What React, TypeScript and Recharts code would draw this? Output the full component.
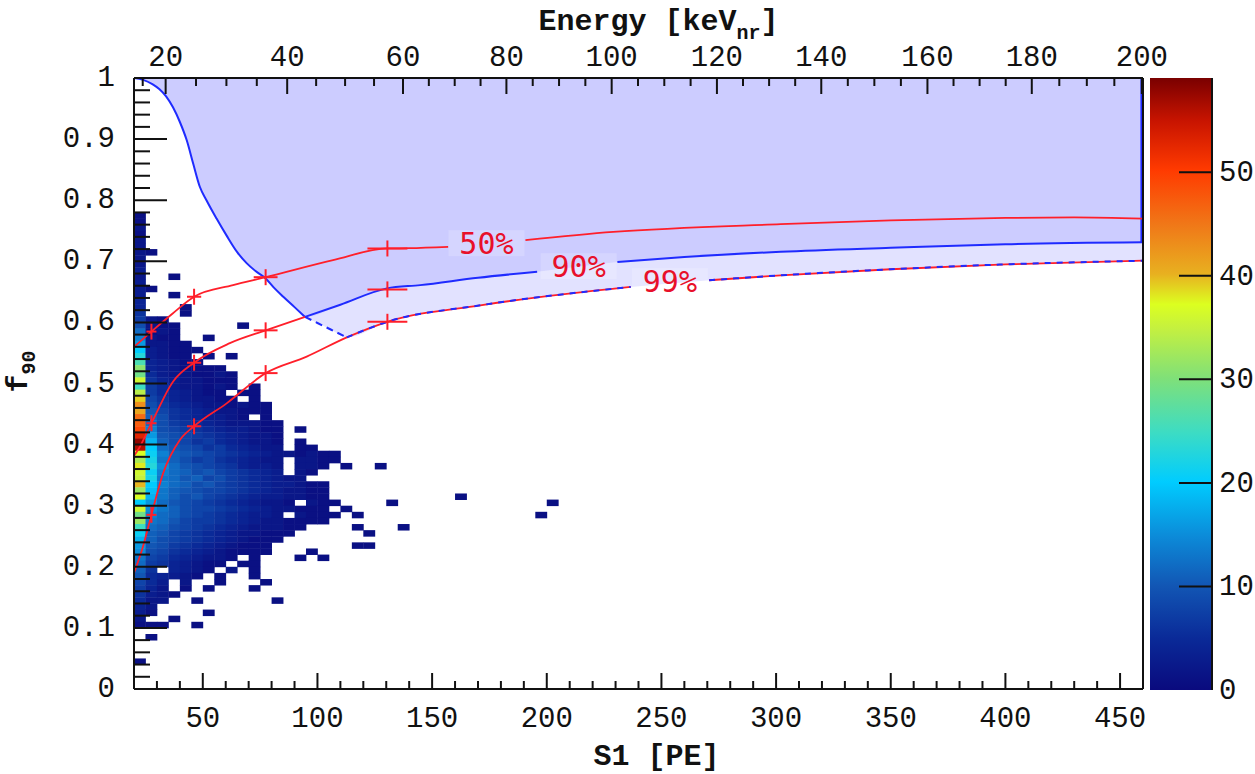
import React from "react";
import {
  ComposedChart,
  BarChart,
  Bar,
  XAxis,
  YAxis,
  Area,
  Line,
  Scatter,
  ErrorBar,
  Label,
} from "recharts";

// ---- axes ---------------------------------------------------------------
const S1_DOMAIN = [20, 460];
const F90_DOMAIN = [0, 1];
const S1_LABELS = [50, 100, 150, 200, 250, 300, 350, 400, 450];
const F90_LABELS = [0, 0.1, 0.2, 0.3, 0.4, 0.5, 0.6, 0.7, 0.8, 0.9, 1];
// top axis: nuclear recoil energy, placed at the S1 where it reads off
const ENERGY_LABELS = [20, 40, 60, 80, 100, 120, 140, 160, 180, 200];
const ENERGY_S1 = [33.8, 86.8, 137.3, 182.4, 228.3, 274.2, 319.7, 366.0, 411.5, 459.5];
const ENERGY_LOW = [15, 23.8]; // first minor tick (keV, S1)
const Z_LABELS = [0, 10, 20, 30, 40, 50];
const Z_RANGE = [0, 59.1];

// ---- 2D histogram: f90 rows of 0.01 from 0.77 down, S1 columns of 5 PE from 20
// one char per bin: . = empty, 0-9, a-z = 10-35, A-Z = 36-61
const HIST_TOP_F90 = 0.77;
const HIST_ROWS = [
  "1", "1", "2", "1", "2", "2", "21", "2", "2", "3",
  "2..1", "3", "31", "3..1", "4", "4...1", "6...1",
  "721",
  "9211.....1",
  "c121",
  "e211..1",
  "g2211",
  "k32111",
  "n3211.1.1",
  "q43211",
  "v4321111",
  "t53221121",
  "A64322111",
  "p75322121.1",
  "y7543211.11",
  "D86432211.1",
  "H97543221211",
  "Fa8654322111",
  "Kb96543321.1",
  "Lc97654322211",
  "Ne98765433211.1",
  "Rga9876543221",
  "Wib9867543221.1",
  "Ukca986754322.11",
  "Bleba9876543221211",
  "xmdb978654322.2211",
  "Cnfca98764332.221.1..1",
  "Alecb9a876543.21",
  "zmdcab897654322",
  "Ekecb9a8765433211",
  "wjdba988765432211",
  "Bidb9a87654332211...........1",
  "kgca9876543221.211....1.............1",
  "Afdb9887654322111.1",
  "tecb987654332.2111.1...............1",
  "wdca8776543221111",
  "pcb987654322211....1...1",
  "lba87654322111......1",
  "ib98765432111",
  "ga9765432111.......11",
  "f98654321111...1",
  "d87543221.1...1.1",
  "c7643211.11",
  "b6.4321.2.1",
  "a54321.1..1",
  "853.2..1...1",
  "742.1.1...1",
  "6321",
  "522..1......1",
  "42",
  "31....1",
  "2..1",
  "111..1",
  "",
  ".1",
  "",
  "",
  "",
  "1",
];

// ---- acceptance curves (S1, f90); null = gap under the label
const EDGE_S1 = [20, 24, 28, 31, 34, 37, 40, 43, 45.8, 48.7, 51.6, 56, 60.4, 65, 69.1, 73, 77.4, 81, 85.1, 90, 94.6];
const EDGE_F90 = [1.0, 0.997, 0.99, 0.982, 0.97, 0.952, 0.928, 0.898, 0.86, 0.822, 0.8, 0.77, 0.742, 0.715, 0.697, 0.684, 0.672, 0.657, 0.642, 0.625, 0.609];
const EDGE_DASH_S1 = [94.6, 100, 106, 112.8];
const EDGE_DASH_F90 = [0.609, 0.599, 0.588, 0.5755];

const C50_S1 = [20, 27.6, 37, 46.2, 63.2, 77.4, 106.8, 130.5, 140, 157, 170, 190.7, 229, 302, 350, 400, 430, 460];
const C50_F90 = [0.56, 0.585, 0.615, 0.642, 0.661, 0.674, 0.702, 0.721, 0.7215, 0.7237, null, 0.7346, 0.748, 0.7608, 0.767, 0.771, 0.772, 0.77];

const C90_RED_S1 = [20, 21.7, 27.6, 37, 46.2, 61.8, 77.4, 94.6];
const C90_RED_F90 = [0.3815, 0.391, 0.435, 0.503, 0.534, 0.566, 0.587, 0.609];
const C90_BLUE_S1 = [94.6, 110, 130.3, 144.8, 170, 195.8, 213, 230.8, 260, 302, 350, 400, 460];
const C90_BLUE_F90 = [0.609, 0.629, 0.6557, 0.661, 0.673, 0.683, null, 0.699, 0.707, 0.7155, 0.722, 0.728, 0.731];

const C99_S1 = [20, 23.9, 27.6, 32.7, 40, 46.2, 60.4, 77.4, 95.3, 112.8, 130.5, 171, 236.6, 250, 270.8, 302, 350, 400, 460];
const C99_F90 = [0.19, 0.233, 0.285, 0.353, 0.4076, 0.43, 0.4675, 0.517, 0.544, 0.5755, 0.601, 0.628, 0.658, null, 0.669, 0.677, 0.687, 0.695, 0.701];
const REGION_EDGE_S1 = 459.3;

// "+" markers on the curves, with their S1 spread
const MARK_S1 = [27.6, 46.2, 77.4, 130.5];
const MARK_S1_ERR = [2.2, 3.1, 5.2, 8.7];
const MARK_F90_50 = [0.585, 0.642, 0.674, 0.721];
const MARK_F90_90 = [0.435, 0.534, 0.587, 0.654];
const MARK_F90_99 = [0.285, 0.43, 0.517, 0.601];

const LABEL_TEXT = ["50%", "90%", "99%"];
const LABEL_S1 = [173.7, 213.9, 253.7];
const LABEL_F90 = [0.7297, 0.692, 0.6675];

// ROOT-style rainbow palette
const PALETTE_STOPS = [0, 0.085, 0.17, 0.25, 0.34, 0.42, 0.51, 0.59, 0.63, 0.68, 0.76, 0.85, 0.93, 1];
const PALETTE_COLORS = ["#0a0a7e", "#0a2a98", "#1256b4", "#0c8ad8", "#00ccff", "#3cdcc4", "#80e078", "#c4f040", "#dcff20", "#e8b020", "#f07818", "#ff3a00", "#c81400", "#7a0000"];

// ---- layout ---------------------------------------------------------------
const W = 1255;
const H = 774;
const LEFT_W = 134;
const TOP_H = 78;
const BOTTOM_H = 85;
const RIGHT_M = 110;
const PLOT_W = W - LEFT_W - 2 - RIGHT_M;
const PLOT_H = H - TOP_H - BOTTOM_H;
const CELL_W = (5 / (S1_DOMAIN[1] - S1_DOMAIN[0])) * PLOT_W;
const CELL_H = 0.01 * PLOT_H;

const INK = "#111";
const RED = "#ff1f2a";
const BLUE = "#1f2bff";
const TICK_FONT = { fontFamily: "'Liberation Mono', monospace", fontSize: 29, fill: INK };
const TITLE_FONT = { fontFamily: "'Liberation Mono', monospace", fontSize: 30, fontWeight: 700, fill: INK };

const pts = (xs: number[], ys: (number | null)[]) => xs.map((x, i) => ({ x, y: ys[i] }));

const decode = (ch: string) => {
  if (ch === ".") return 0;
  const c = ch.charCodeAt(0);
  if (c >= 48 && c <= 57) return c - 48;
  if (c >= 97 && c <= 122) return c - 87;
  return c - 29;
};

const CELLS = HIST_ROWS.flatMap((row, r) =>
  row.split("").map((ch, c) => ({
    x: S1_DOMAIN[0] + 5 * c + 2.5,
    y: HIST_TOP_F90 - 0.01 * r + 0.005,
    n: decode(ch),
  }))
).filter((d) => d.n > 0);

const hex = (s: string) => [1, 3, 5].map((i) => parseInt(s.slice(i, i + 2), 16));
function heatColor(n: number) {
  const t = Math.min(1, n / Z_RANGE[1]);
  let i = 0;
  while (i < PALETTE_STOPS.length - 2 && t > PALETTE_STOPS[i + 1]) i++;
  const f = (t - PALETTE_STOPS[i]) / (PALETTE_STOPS[i + 1] - PALETTE_STOPS[i]);
  const a = hex(PALETTE_COLORS[i]);
  const b = hex(PALETTE_COLORS[i + 1]);
  return `rgb(${a.map((v, k) => Math.round(v + (b[k] - v) * f)).join(",")})`;
}

const edge = pts(EDGE_S1, EDGE_F90);
const edgeDash = pts(EDGE_DASH_S1, EDGE_DASH_F90);
const c50 = pts(C50_S1, C50_F90);
const c90Red = pts(C90_RED_S1, C90_RED_F90);
const c90Blue = pts(C90_BLUE_S1, C90_BLUE_F90);
const c99 = pts(C99_S1, C99_F90);
const c99Dashed = c99.filter((d) => d.x >= EDGE_DASH_S1[EDGE_DASH_S1.length - 1]);

const DARK_BAND = [...edge, ...c90Blue.slice(1)].filter((d) => d.y !== null);
const LIGHT_BAND = [...edgeDash, ...c99Dashed.slice(1)].filter((d) => d.y !== null);
const band = (d: { y: number }) => [d.y, F90_DOMAIN[1]];

const MARKERS = [MARK_F90_50, MARK_F90_90, MARK_F90_99].flatMap((ys) =>
  ys.map((y, i) => ({ x: MARK_S1[i], y, ex: MARK_S1_ERR[i] }))
);
const LABELS = LABEL_TEXT.map((text, i) => ({ x: LABEL_S1[i], y: LABEL_F90[i], text }));

// energy ticks every 5 keV, interpolated between the labelled ones
const energyAnchors = [[ENERGY_LOW[0], ENERGY_LOW[1]], ...ENERGY_LABELS.map((e, i) => [e, ENERGY_S1[i]])];
const energyToS1 = (e: number) => {
  for (let i = 0; i < energyAnchors.length - 1; i++) {
    const [e0, s0] = energyAnchors[i];
    const [e1, s1] = energyAnchors[i + 1];
    if (e >= e0 && e <= e1) return s0 + ((e - e0) / (e1 - e0)) * (s1 - s0);
  }
  return ENERGY_S1[ENERGY_S1.length - 1];
};
const ENERGY_TICKS = Array.from({ length: 38 }, (_, i) => 15 + 5 * i).map((e) => ({
  e,
  s1: ENERGY_LABELS.includes(e) ? ENERGY_S1[ENERGY_LABELS.indexOf(e)] : energyToS1(e),
}));

const S1_TICKS = Array.from({ length: 44 }, (_, i) => 20 + 10 * i);
const F90_TICKS = Array.from({ length: 51 }, (_, i) => +(i * 0.02).toFixed(2));

// ---- ticks (ROOT draws them inside the frame) ----------------------------
function BottomTick({ x, y, payload }: any) {
  const major = S1_LABELS.includes(payload.value);
  return (
    <g>
      <line x1={x} x2={x} y1={y} y2={y - (major ? 16 : 8)} stroke={INK} strokeWidth={2} />
      {major && (
        <text x={x} y={y + 38} textAnchor="middle" {...TICK_FONT}>
          {payload.value}
        </text>
      )}
    </g>
  );
}

function LeftTick({ x, y, payload }: any) {
  const v = payload.value;
  const major = F90_LABELS.some((l) => Math.abs(l - v) < 1e-6);
  return (
    <g>
      <line x1={x} x2={x + (major ? 33 : 16)} y1={y} y2={y} stroke={INK} strokeWidth={2} />
      {major && (
        <text x={x - 19} y={y + 8} textAnchor="end" {...TICK_FONT}>
          {v === 0 || v === 1 ? String(v) : v.toFixed(1)}
        </text>
      )}
    </g>
  );
}

function TopTick({ x, y, payload }: any) {
  const t = ENERGY_TICKS.find((d) => Math.abs(d.s1 - payload.value) < 1e-6);
  const major = t ? ENERGY_LABELS.includes(t.e) : false;
  return (
    <g>
      <line x1={x} x2={x} y1={y} y2={y + (major ? 16 : 8)} stroke={INK} strokeWidth={2} />
      {major && t && (
        <text x={x} y={y - 12} textAnchor="middle" {...TICK_FONT}>
          {t.e}
        </text>
      )}
    </g>
  );
}

function ZTick({ x, y, payload }: any) {
  return (
    <g>
      {payload.value > 0 && <line x1={x - 33} x2={x} y1={y} y2={y} stroke={INK} strokeWidth={2} />}
      <text x={x + 7} y={y + 9} textAnchor="start" {...TICK_FONT}>
        {payload.value}
      </text>
    </g>
  );
}

// ---- marks ---------------------------------------------------------------
function HeatCell({ cx, cy, payload }: any) {
  return (
    <rect
      x={cx - CELL_W / 2}
      y={cy - CELL_H / 2}
      width={CELL_W + 0.4}
      height={CELL_H + 0.4}
      fill={heatColor(payload.n)}
    />
  );
}

function PlusMark({ cx, cy }: any) {
  return <line x1={cx} x2={cx} y1={cy - 8} y2={cy + 8} stroke={RED} strokeWidth={2} />;
}

function CurveLabel({ cx, cy, payload }: any) {
  return (
    <g>
      <rect x={cx - 38} y={cy - 13} width={76} height={26} fill="#fff" fillOpacity={0.18} />
      <text
        x={cx}
        y={cy + 11}
        textAnchor="middle"
        fontFamily="'DejaVu Sans Mono', monospace"
        fontSize={30}
        fill="#e8102a"
      >
        {payload.text}
      </text>
    </g>
  );
}

// ---- titles --------------------------------------------------------------
function TopTitle({ viewBox }: any) {
  return (
    <text x={viewBox.x + viewBox.width / 2 + 20} y={30} textAnchor="middle" {...TITLE_FONT}>
      Energy [keV
      <tspan dy={9} fontSize={20}>nr</tspan>
      <tspan dy={-9}>]</tspan>
    </text>
  );
}

function BottomTitle({ viewBox }: any) {
  return (
    <text x={viewBox.x + viewBox.width / 2 + 18} y={viewBox.y + 76} textAnchor="middle" {...TITLE_FONT}>
      S1 [PE]
    </text>
  );
}

function LeftTitle({ viewBox }: any) {
  const cx = 27;
  const cy = viewBox.y + viewBox.height / 2 - 12;
  return (
    <text x={cx} y={cy} transform={`rotate(-90, ${cx}, ${cy})`} textAnchor="middle" {...TITLE_FONT}>
      f<tspan dy={8} fontSize={20}>90</tspan>
    </text>
  );
}

function Colorbar() {
  return (
    <BarChart
      width={105}
      height={H}
      data={[{ name: "z", v: Z_RANGE[1] }]}
      margin={{ top: TOP_H, right: 0, bottom: H - TOP_H - PLOT_H - 1, left: 0 }}
      barCategoryGap={0}
    >
      <defs>
        <linearGradient id="zpal" x1="0" y1="1" x2="0" y2="0">
          {PALETTE_STOPS.map((s, i) => (
            <stop key={s} offset={s} stopColor={PALETTE_COLORS[i]} />
          ))}
        </linearGradient>
      </defs>
      <XAxis dataKey="name" hide />
      <YAxis
        orientation="right"
        type="number"
        width={43}
        domain={Z_RANGE}
        ticks={Z_LABELS}
        interval={0}
        tickSize={0}
        tickMargin={0}
        tickLine={false}
        tick={<ZTick />}
        axisLine={{ stroke: INK, strokeWidth: 2 }}
        allowDataOverflow
      />
      <Bar dataKey="v" fill="url(#zpal)" isAnimationActive={false} />
    </BarChart>
  );
}

export default function App() {
  return (
    <div style={{ position: "absolute", left: 0, top: 0, width: W, height: H, background: "#fff" }}>
      <ComposedChart width={W} height={H} margin={{ top: 0, right: RIGHT_M, bottom: 0, left: 0 }}>
        <XAxis
          xAxisId="top"
          orientation="top"
          type="number"
          dataKey="x"
          domain={S1_DOMAIN}
          ticks={ENERGY_TICKS.map((d) => d.s1)}
          interval={0}
          height={TOP_H}
          tickSize={0}
          tickMargin={0}
          tickLine={false}
          tick={<TopTick />}
          axisLine={{ stroke: INK, strokeWidth: 2 }}
          allowDataOverflow
        >
          <Label content={<TopTitle />} />
        </XAxis>
        <XAxis
          type="number"
          dataKey="x"
          domain={S1_DOMAIN}
          ticks={S1_TICKS}
          interval={0}
          height={BOTTOM_H}
          tickSize={0}
          tickMargin={0}
          tickLine={false}
          tick={<BottomTick />}
          axisLine={{ stroke: INK, strokeWidth: 2 }}
          allowDataOverflow
        >
          <Label content={<BottomTitle />} />
        </XAxis>
        <YAxis
          type="number"
          dataKey="y"
          domain={F90_DOMAIN}
          ticks={F90_TICKS}
          interval={0}
          width={LEFT_W}
          tickSize={0}
          tickMargin={0}
          tickLine={false}
          tick={<LeftTick />}
          axisLine={{ stroke: INK, strokeWidth: 2 }}
          allowDataOverflow
        >
          <Label content={<LeftTitle />} />
        </YAxis>
        <YAxis
          yAxisId="right"
          orientation="right"
          width={2}
          domain={F90_DOMAIN}
          tick={false}
          tickLine={false}
          axisLine={{ stroke: INK, strokeWidth: 2 }}
        />

        <Area data={LIGHT_BAND} dataKey={band} type="monotone" fill="#e2e2ff" fillOpacity={1} stroke="none" isAnimationActive={false} />
        <Area data={DARK_BAND} dataKey={band} type="monotone" fill="#ccccff" fillOpacity={1} stroke="none" isAnimationActive={false} />

        {/* histogram sits under the curves and the axis ticks */}
        <Scatter data={CELLS} shape={<HeatCell />} isAnimationActive={false} zIndex={350} />

        <Line data={edge} dataKey="y" type="monotone" stroke={BLUE} strokeWidth={2} dot={false} isAnimationActive={false} />
        <Line data={edgeDash} dataKey="y" type="monotone" stroke={BLUE} strokeWidth={2} strokeDasharray="7 5" dot={false} isAnimationActive={false} />
        <Line
          data={[{ x: REGION_EDGE_S1, y: C90_BLUE_F90[C90_BLUE_F90.length - 1] }, { x: REGION_EDGE_S1, y: F90_DOMAIN[1] }]}
          dataKey="y"
          type="linear"
          stroke={BLUE}
          strokeWidth={2}
          dot={false}
          isAnimationActive={false}
        />
        <Line data={c50} dataKey="y" type="monotone" stroke={RED} strokeWidth={1.8} dot={false} isAnimationActive={false} />
        <Line data={c90Red} dataKey="y" type="monotone" stroke={RED} strokeWidth={1.8} dot={false} isAnimationActive={false} />
        <Line data={c90Blue} dataKey="y" type="monotone" stroke={BLUE} strokeWidth={2} dot={false} isAnimationActive={false} />
        <Line data={c99} dataKey="y" type="monotone" stroke={RED} strokeWidth={1.8} dot={false} isAnimationActive={false} />
        <Line data={c99Dashed} dataKey="y" type="monotone" stroke={BLUE} strokeWidth={2} strokeDasharray="6 6" dot={false} isAnimationActive={false} />

        <Scatter data={MARKERS} shape={<PlusMark />} isAnimationActive={false}>
          <ErrorBar dataKey="ex" direction="x" width={0} stroke={RED} strokeWidth={2} />
        </Scatter>
        <Scatter data={LABELS} shape={<CurveLabel />} isAnimationActive={false} />
      </ComposedChart>
      <div style={{ position: "absolute", left: 1150, top: 0 }}>
        <Colorbar />
      </div>
    </div>
  );
}
